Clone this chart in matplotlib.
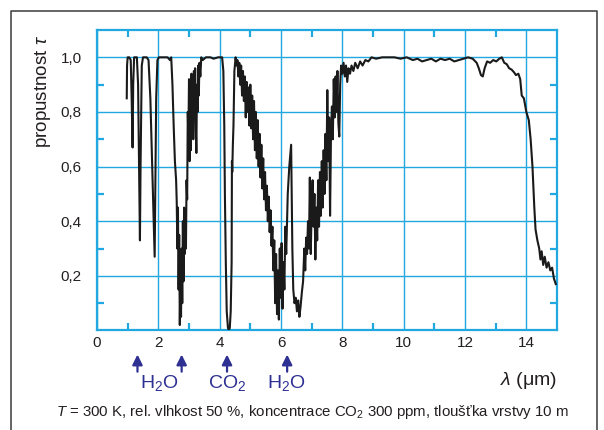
import matplotlib

matplotlib.use("Agg")

import matplotlib.pyplot as plt
from matplotlib.lines import Line2D
from matplotlib.ticker import FixedLocator, FuncFormatter


# Transmission spectrum of a 10 m air layer (wavelength in um, tau)
wavelength = [
    0.97, 0.98, 1.00, 1.05, 1.10, 1.13, 1.16, 1.18, 1.21, 1.30,
    1.34, 1.38, 1.40, 1.42, 1.46, 1.50, 1.62, 1.68, 1.74, 1.80,
    1.86, 1.88, 1.90, 1.93, 1.97, 2.02, 2.30, 2.38, 2.42, 2.46,
    2.50, 2.54, 2.58, 2.60, 2.62, 2.64, 2.66, 2.68, 2.70, 2.72,
    2.74, 2.76, 2.78, 2.80, 2.82, 2.84, 2.86, 2.88, 2.90, 2.92,
    2.94, 2.96, 2.98, 3.00, 3.02, 3.04, 3.06, 3.08, 3.10, 3.12,
    3.14, 3.16, 3.18, 3.20, 3.22, 3.24, 3.26, 3.28, 3.30, 3.32,
    3.34, 3.37, 3.40, 3.45, 3.55, 3.70, 3.80, 3.95, 4.08, 4.12,
    4.15, 4.17, 4.20, 4.23, 4.27, 4.30, 4.33, 4.36, 4.39, 4.40,
    4.41, 4.43, 4.45, 4.48, 4.52, 4.55, 4.58, 4.61, 4.64, 4.67,
    4.70, 4.73, 4.76, 4.79, 4.82, 4.85, 4.88, 4.91, 4.94, 4.97,
    5.00, 5.03, 5.06, 5.09, 5.12, 5.15, 5.18, 5.21, 5.24, 5.27,
    5.30, 5.33, 5.36, 5.39, 5.42, 5.45, 5.48, 5.51, 5.54, 5.57,
    5.60, 5.63, 5.66, 5.69, 5.72, 5.75, 5.78, 5.81, 5.84, 5.87,
    5.90, 5.93, 5.96, 5.99, 6.02, 6.05, 6.08, 6.11, 6.14, 6.17,
    6.22, 6.27, 6.33, 6.37, 6.40, 6.44, 6.48, 6.52, 6.56, 6.60,
    6.64, 6.68, 6.72, 6.76, 6.79, 6.82, 6.85, 6.88, 6.91, 6.94,
    6.97, 7.00, 7.03, 7.06, 7.09, 7.12, 7.15, 7.18, 7.21, 7.24,
    7.27, 7.30, 7.33, 7.36, 7.39, 7.42, 7.45, 7.48, 7.51, 7.54,
    7.57, 7.60, 7.63, 7.66, 7.69, 7.72, 7.75, 7.78, 7.81, 7.84,
    7.87, 7.90, 7.93, 7.96, 8.00, 8.04, 8.08, 8.12, 8.16, 8.20,
    8.25, 8.30, 8.36, 8.42, 8.50, 8.58, 8.66, 8.75, 8.85, 8.95,
    9.10, 9.30, 9.50, 9.70, 9.90, 10.10, 10.30, 10.45, 10.60, 10.75,
    10.90, 11.05, 11.20, 11.35, 11.50, 11.65, 11.80, 11.95, 12.10, 12.25,
    12.38, 12.45, 12.52, 12.58, 12.64, 12.72, 12.82, 12.92, 13.02, 13.12,
    13.20, 13.28, 13.36, 13.44, 13.52, 13.60, 13.66, 13.74, 13.80, 13.85,
    13.92, 14.00, 14.08, 14.14, 14.20, 14.26, 14.30, 14.36, 14.42, 14.46,
    14.50, 14.55, 14.60, 14.66, 14.72, 14.78, 14.84, 14.90, 14.96,
]

transmittance = [
    0.85, 0.97, 1.00, 1.00, 0.99, 0.85, 0.67, 0.90, 1.00, 1.00,
    0.90, 0.50, 0.33, 0.60, 0.97, 1.00, 1.00, 0.99, 0.85, 0.60,
    0.35, 0.27, 0.50, 0.85, 0.99, 1.00, 1.00, 0.99, 1.00, 0.90,
    0.75, 0.62, 0.55, 0.47, 0.30, 0.45, 0.15, 0.35, 0.02, 0.20,
    0.05, 0.30, 0.10, 0.40, 0.18, 0.45, 0.28, 0.42, 0.30, 0.55,
    0.48, 0.80, 0.70, 0.92, 0.62, 0.90, 0.66, 0.94, 0.72, 0.92,
    0.70, 0.95, 0.78, 0.96, 0.76, 0.65, 0.90, 0.80, 0.97, 0.86,
    0.98, 0.93, 1.00, 0.99, 1.00, 1.00, 0.995, 1.00, 1.00, 0.95,
    0.75, 0.50, 0.25, 0.07, 0.01, 0.00, 0.01, 0.07, 0.25, 0.62,
    0.58, 0.68, 0.75, 0.95, 1.00, 0.97, 0.99, 0.93, 0.98, 0.90,
    0.97, 0.86, 0.95, 0.84, 0.93, 0.78, 0.91, 0.80, 0.89, 0.75,
    0.90, 0.74, 0.86, 0.70, 0.84, 0.66, 0.80, 0.63, 0.77, 0.60,
    0.72, 0.56, 0.68, 0.52, 0.63, 0.48, 0.58, 0.44, 0.53, 0.40,
    0.49, 0.36, 0.44, 0.31, 0.38, 0.22, 0.33, 0.10, 0.28, 0.06,
    0.22, 0.04, 0.30, 0.12, 0.32, 0.08, 0.25, 0.15, 0.38, 0.28,
    0.50, 0.60, 0.68, 0.30, 0.15, 0.10, 0.12, 0.07, 0.11, 0.05,
    0.09, 0.14, 0.18, 0.30, 0.22, 0.34, 0.28, 0.40, 0.30, 0.56,
    0.28, 0.45, 0.55, 0.38, 0.50, 0.26, 0.45, 0.33, 0.55, 0.38,
    0.58, 0.42, 0.62, 0.45, 0.66, 0.50, 0.72, 0.55, 0.88, 0.62,
    0.78, 0.42, 0.72, 0.82, 0.70, 0.92, 0.78, 0.93, 0.80, 0.95,
    0.76, 0.71, 0.90, 0.97, 0.94, 0.98, 0.93, 0.97, 0.91, 0.96,
    0.94, 0.97, 0.95, 0.98, 0.96, 0.985, 0.97, 0.99, 0.985, 1.00,
    0.995, 1.00, 1.00, 1.00, 0.995, 1.00, 0.99, 0.995, 0.985, 0.99,
    0.995, 0.985, 0.995, 0.99, 0.995, 0.985, 0.99, 0.995, 1.00, 0.995,
    0.98, 0.96, 0.935, 0.93, 0.96, 0.985, 0.98, 0.99, 0.985, 0.995,
    1.00, 0.98, 0.975, 0.96, 0.955, 0.945, 0.935, 0.94, 0.92, 0.86,
    0.85, 0.80, 0.77, 0.70, 0.60, 0.45, 0.37, 0.33, 0.30, 0.26,
    0.29, 0.24, 0.27, 0.23, 0.25, 0.22, 0.23, 0.19, 0.17,
]

# Absorption bands marked under the axis
band_arrows = [1.32, 2.76, 4.24, 6.2]
band_labels = ["H$_2$O", "CO$_2$", "H$_2$O"]
band_label_x = [2.03, 4.24, 6.17]

x_major = list(range(0, 15, 2))
x_minor = list(range(1, 15, 2))
y_major = [0.2, 0.4, 0.6, 0.8, 1.0]
y_minor = [0.1, 0.3, 0.5, 0.7, 0.9]

GRID_BLUE = "#22A8E0"
BAND_BLUE = "#2E3192"
TEXT_COLOR = "#231F20"

plt.rcParams["font.family"] = ["Liberation Sans", "DejaVu Sans"]
plt.rcParams["mathtext.fontset"] = "custom"
plt.rcParams["mathtext.rm"] = "Liberation Sans"
plt.rcParams["mathtext.it"] = "Liberation Sans:italic"

fig = plt.figure(figsize=(6.04, 4.30), dpi=100)
fig.patch.set_facecolor("white")
ax = fig.add_axes([0.1606, 0.2314, 0.7616, 0.6988])

ax.plot(wavelength, transmittance, color="#1A1A1A", linewidth=1.5,
        solid_joinstyle="round", zorder=3)

ax.set_xlim(0, 15)
ax.set_ylim(0, 1.1)

ax.xaxis.set_major_locator(FixedLocator(x_major))
ax.xaxis.set_minor_locator(FixedLocator(x_minor))
ax.yaxis.set_major_locator(FixedLocator(y_major))
ax.yaxis.set_minor_locator(FixedLocator(y_minor))
ax.yaxis.set_major_formatter(
    FuncFormatter(lambda v, _: f"{v:.1f}".replace(".", ","))
)

ax.grid(which="major", color=GRID_BLUE, linewidth=1.0, zorder=1)
ax.set_axisbelow(True)

for spine in ax.spines.values():
    spine.set_color(GRID_BLUE)
    spine.set_linewidth(1.6)

ax.tick_params(which="major", length=0, labelsize=11, colors=TEXT_COLOR)
ax.tick_params(axis="x", which="major", pad=4)
ax.tick_params(axis="y", which="major", pad=11)
ax.tick_params(which="minor", direction="in", length=5, width=1.6,
               color=GRID_BLUE, top=True, right=True)

# Gas arrows and labels under the wavelength axis
xtrans = ax.get_xaxis_transform()
for x in band_arrows:
    ax.annotate(
        "",
        xy=(x, -0.080),
        xytext=(x, -0.137),
        xycoords=xtrans,
        textcoords=xtrans,
        arrowprops=dict(arrowstyle="-|>", color=BAND_BLUE, lw=1.6,
                        mutation_scale=15, shrinkA=0, shrinkB=0),
        annotation_clip=False,
    )
for label, x in zip(band_labels, band_label_x):
    ax.text(x, -0.175, label, transform=xtrans, ha="center", va="center",
            fontsize=14, color=BAND_BLUE)

ax.text(1.0, -0.165, r"$\mathit{\lambda}$ ($\mathrm{\mu}$m)",
        transform=ax.transAxes, ha="right", va="center",
        fontsize=14, color=TEXT_COLOR)

fig.text(43 / 604, 1 - 91 / 430, r"propustnost $\mathit{\tau}$",
         rotation=90, ha="center", va="center", fontsize=13.5,
         color=TEXT_COLOR)

fig.text(312 / 604, 1 - 412 / 430,
         r"$T$ = 300 K, rel. vlhkost 50 %, koncentrace CO$_2$ 300 ppm, "
         "tloušťka vrstvy 10 m",
         ha="center", va="center", fontsize=10.8, color=TEXT_COLOR)

# Frame around the figure, open at the bottom edge
frame_x = [10.5 / 604, 10.5 / 604, 597 / 604, 597 / 604]
frame_y = [0.0, 1 - 10.5 / 430, 1 - 10.5 / 430, 0.0]
fig.add_artist(Line2D(frame_x, frame_y, transform=fig.transFigure,
                      color="#3A3A3A", linewidth=1.1))

fig.savefig("out.png", dpi=100, facecolor="white")
